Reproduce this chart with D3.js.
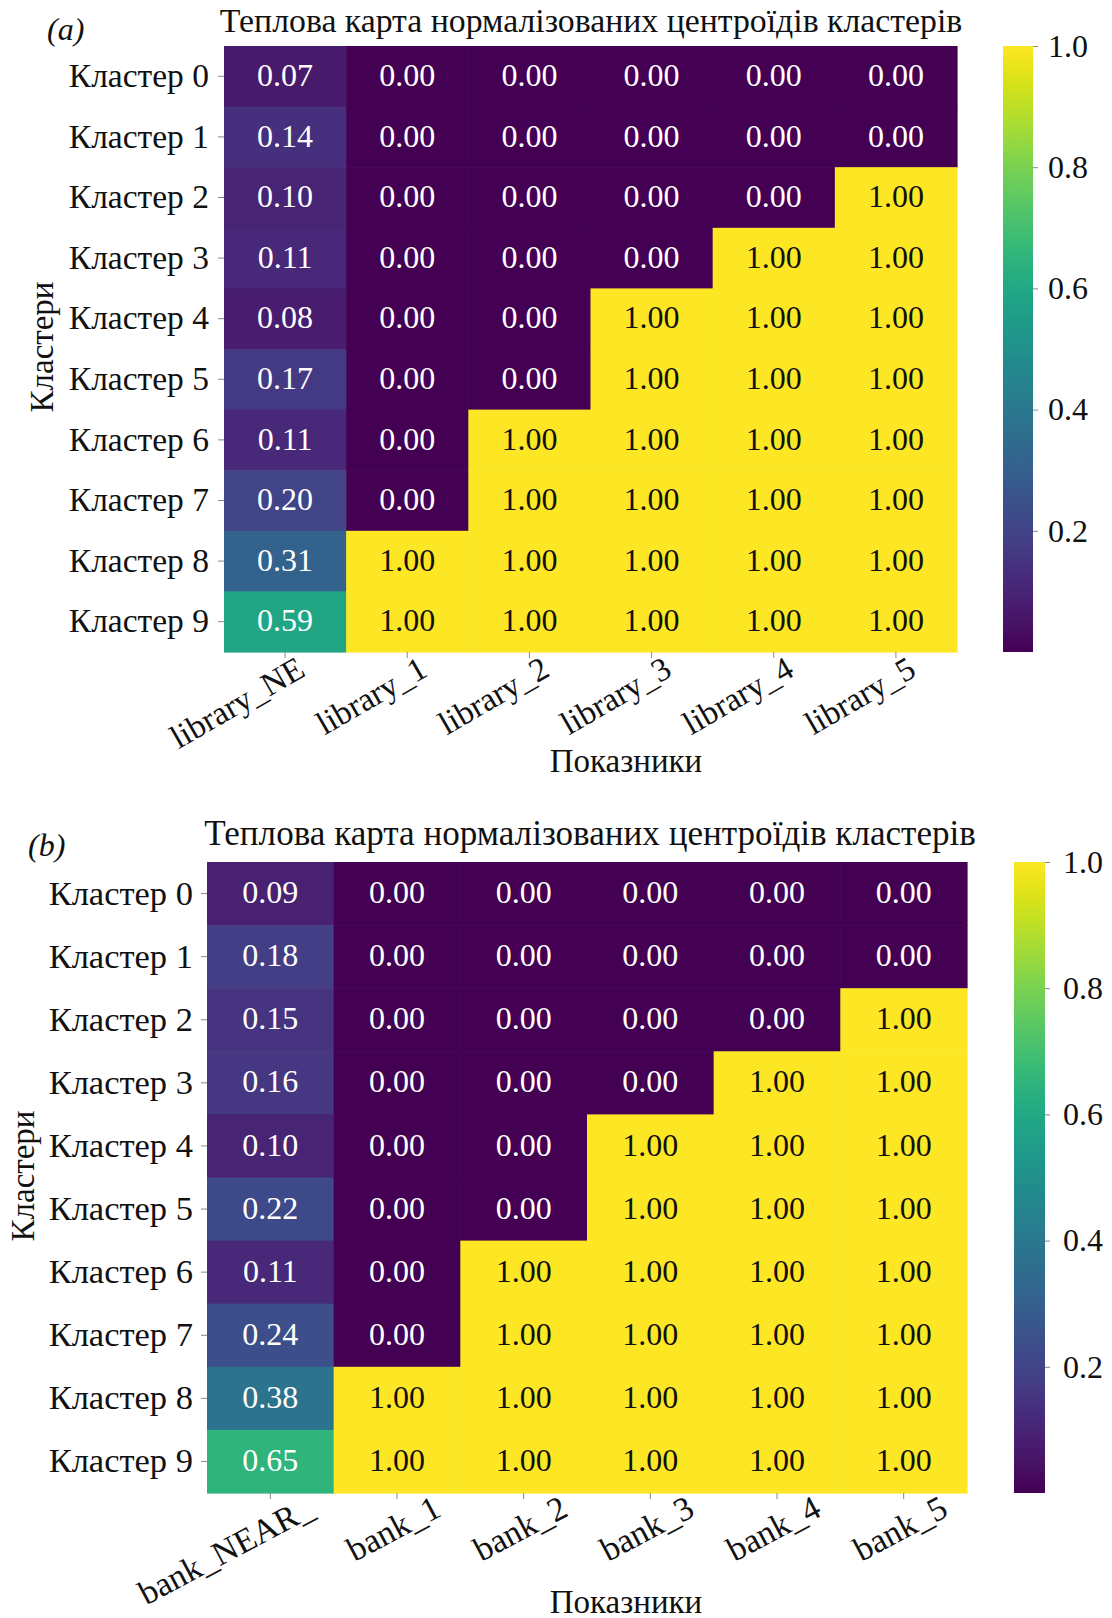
<!DOCTYPE html>
<html>
<head>
<meta charset="utf-8">
<script src="https://cdn.jsdelivr.net/npm/d3@7"></script>
<style>
  body { margin: 0; background: #fff; }
  text { font-family: "Liberation Serif", "Times New Roman", serif; }
</style>
</head>
<body>
<svg id="chart" width="1112" height="1618"></svg>
<script>
// ---- data ----
const clusters = ["Кластер 0", "Кластер 1", "Кластер 2", "Кластер 3", "Кластер 4",
                  "Кластер 5", "Кластер 6", "Кластер 7", "Кластер 8", "Кластер 9"];

const featuresA = ["library_NE", "library_1", "library_2", "library_3", "library_4", "library_5"];
const featuresB = ["bank_NEAR_", "bank_1", "bank_2", "bank_3", "bank_4", "bank_5"];

// first (continuous) indicator per cluster
const firstColA = [0.07, 0.14, 0.10, 0.11, 0.08, 0.17, 0.11, 0.20, 0.31, 0.59];
const firstColB = [0.09, 0.18, 0.15, 0.16, 0.10, 0.22, 0.11, 0.24, 0.38, 0.65];

// binary indicators _1 .. _5, one array per column, clusters 0..9
const col1 = [0, 0, 0, 0, 0, 0, 0, 0, 1, 1];
const col2 = [0, 0, 0, 0, 0, 0, 1, 1, 1, 1];
const col3 = [0, 0, 0, 0, 1, 1, 1, 1, 1, 1];
const col4 = [0, 0, 0, 1, 1, 1, 1, 1, 1, 1];
const col5 = [0, 0, 1, 1, 1, 1, 1, 1, 1, 1];

const colorbarTicks = [0.2, 0.4, 0.6, 0.8, 1.0];

const chartTitle = "Теплова карта нормалізованих центроїдів кластерів";
const yTitle = "Кластери";
const xTitle = "Показники";

// ---- drawing ----
const svg = d3.select("#chart");
svg.append("rect").attr("width", 1112).attr("height", 1618).attr("fill", "#fff");

const color = d3.scaleSequential(d3.interpolateViridis).domain([0, 1]);

// gradient for the colour bars
const defs = svg.append("defs");
const grad = defs.append("linearGradient").attr("id", "viridisGrad")
  .attr("x1", 0).attr("y1", 1).attr("x2", 0).attr("y2", 0);
d3.range(0, 1.0001, 0.02).forEach(t => {
  grad.append("stop").attr("offset", t).attr("stop-color", color(t));
});

function textColor(c) {
  const rgb = d3.rgb(c);
  const lin = v => { v /= 255; return v <= 0.03928 ? v / 12.92 : Math.pow((v + 0.055) / 1.055, 2.4); };
  const lum = 0.2126 * lin(rgb.r) + 0.7152 * lin(rgb.g) + 0.0722 * lin(rgb.b);
  return lum > 0.408 ? "#111" : "#fff";
}

function drawPanel(p) {
  const g = svg.append("g");
  const x = d3.scaleBand().domain(p.features).range([p.left, p.right]);
  const y = d3.scaleBand().domain(clusters).range([p.top, p.bottom]);

  const cells = [];
  p.columns.forEach((col, j) => col.forEach((v, i) => {
    cells.push({ row: clusters[i], col: p.features[j], v });
  }));

  g.selectAll("rect.cell").data(cells).join("rect")
    .attr("class", "cell")
    .attr("x", d => x(d.col))
    .attr("y", d => y(d.row))
    .attr("width", x.bandwidth() + 0.6)
    .attr("height", y.bandwidth() + 0.6)
    .attr("fill", d => color(d.v));

  const fmt = d3.format(".2f");
  g.selectAll("text.val").data(cells).join("text")
    .attr("class", "val")
    .attr("x", d => x(d.col) + x.bandwidth() / 2)
    .attr("y", d => y(d.row) + y.bandwidth() / 2)
    .attr("dy", "0.30em")
    .attr("text-anchor", "middle")
    .attr("font-size", p.cellFont)
    .attr("fill", d => textColor(color(d.v)))
    .text(d => fmt(d.v));

  // y axis
  const ya = g.append("g").attr("transform", `translate(${p.left},0)`)
    .call(d3.axisLeft(y).tickSize(6).tickPadding(p.yPad));
  ya.select(".domain").remove();
  ya.selectAll(".tick line").attr("stroke", "#888");
  ya.selectAll(".tick text").attr("font-size", p.yFont).attr("fill", "#111")
    .attr("font-family", "Liberation Serif");

  // x axis
  const xa = g.append("g").attr("transform", `translate(0,${p.bottom})`)
    .call(d3.axisBottom(x).tickSize(6));
  xa.select(".domain").remove();
  xa.selectAll(".tick line").attr("stroke", "#888");
  xa.selectAll(".tick text")
    .attr("x", 0).attr("y", 0).attr("dy", 0)
    .attr("text-anchor", "end")
    .attr("transform", `translate(${p.xdx},${p.xdy}) rotate(${-p.xAngle})`)
    .attr("font-size", p.xFont).attr("fill", "#111")
    .attr("font-family", "Liberation Serif");

  // colour bar
  const cb = d3.scaleLinear().domain([0, 1]).range([p.bottom, p.top]);
  g.append("rect")
    .attr("x", p.cbX).attr("y", p.top)
    .attr("width", p.cbW).attr("height", p.bottom - p.top)
    .attr("fill", "url(#viridisGrad)");
  const ca = g.append("g").attr("transform", `translate(${p.cbX + p.cbW},0)`)
    .call(d3.axisRight(cb).tickValues(colorbarTicks).tickFormat(d3.format(".1f"))
      .tickSize(5).tickPadding(p.cbPad));
  ca.select(".domain").remove();
  ca.selectAll(".tick line").attr("stroke", "#888");
  ca.selectAll(".tick text").attr("font-size", p.cbFont).attr("fill", "#111")
    .attr("font-family", "Liberation Serif");

  // title, fitted to its width
  const t = g.append("text")
    .attr("x", p.titleX).attr("y", p.titleY)
    .attr("text-anchor", "middle")
    .attr("font-size", 30).attr("fill", "#111")
    .text(chartTitle);
  const w = t.node().getComputedTextLength();
  t.attr("font-size", 30 * p.titleW / w);

  // panel tag
  g.append("text").attr("x", p.tagX).attr("y", p.tagY)
    .attr("font-size", 32).attr("font-style", "italic").attr("fill", "#111")
    .text(p.tag);

  // axis titles
  g.append("text")
    .attr("transform", `translate(${p.yTitleX},${p.yTitleY}) rotate(-90)`)
    .attr("text-anchor", "middle")
    .attr("font-size", 33).attr("fill", "#111")
    .text(yTitle);
  g.append("text")
    .attr("x", p.xTitleX).attr("y", p.xTitleY)
    .attr("text-anchor", "middle")
    .attr("font-size", 33).attr("fill", "#111")
    .text(xTitle);
}

drawPanel({
  tag: "(a)", features: featuresA,
  columns: [firstColA, col1, col2, col3, col4, col5],
  left: 224, right: 957, top: 46, bottom: 652,
  cbX: 1003, cbW: 30, cbPad: 10, cbFont: 32,
  yPad: 9, yFont: 33.5, cellFont: 32,
  xFont: 33, xAngle: 30, xdx: 22, xdy: 23,
  titleX: 591, titleY: 32, titleW: 743,
  tagX: 47, tagY: 40,
  yTitleX: 53, yTitleY: 347,
  xTitleX: 626, xTitleY: 772
});

drawPanel({
  tag: "(b)", features: featuresB,
  columns: [firstColB, col1, col2, col3, col4, col5],
  left: 207, right: 967, top: 862, bottom: 1493,
  cbX: 1014, cbW: 31, cbPad: 13, cbFont: 32,
  yPad: 8, yFont: 34.5, cellFont: 32,
  xFont: 34, xAngle: 28, xdx: 46, xdy: 22,
  titleX: 590, titleY: 845, titleW: 772,
  tagX: 28, tagY: 856,
  yTitleX: 34, yTitleY: 1176,
  xTitleX: 626, xTitleY: 1613
});
</script>
</body>
</html>
